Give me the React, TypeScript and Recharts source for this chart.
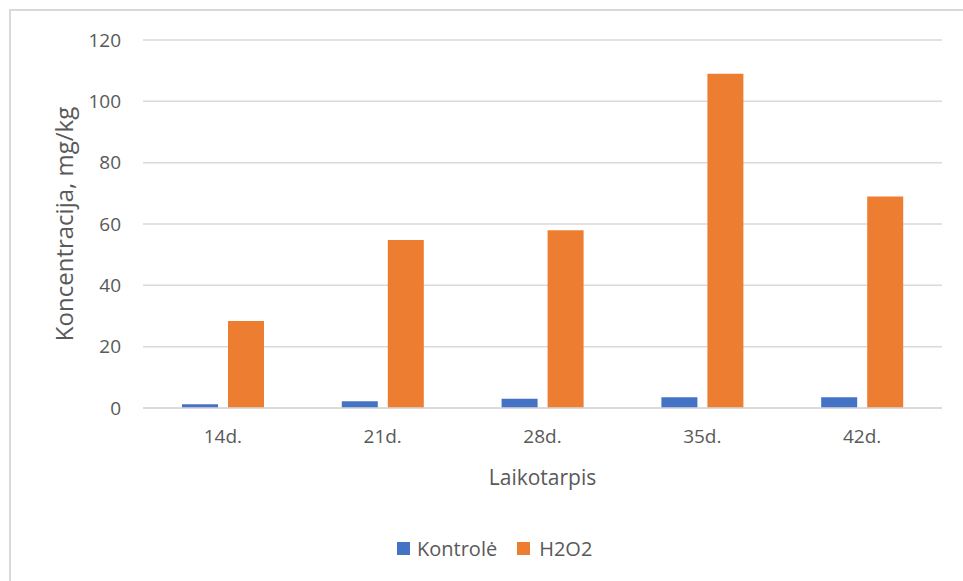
import React from 'react';
import { BarChart, Bar, XAxis, YAxis, CartesianGrid, Legend } from 'recharts';

// Values
const periods = ['14d.', '21d.', '28d.', '35d.', '42d.'];
const kontrole = [1.2, 2.2, 3.0, 3.5, 3.5];
const h2o2 = [28.4, 54.8, 58.0, 109.0, 69.0];
const yTicks = [0, 20, 40, 60, 80, 100, 120];

const data = periods.map((p, i) => ({ name: p, kontrole: kontrole[i], h2o2: h2o2[i] }));

const FONT = '"Open Sans", "DejaVu Sans", sans-serif';
const TEXT = '#595959';
const GRID = '#d9d9d9';

const LegendContent = () => (
    <div style={{ display: 'flex', alignItems: 'center', height: 26, paddingLeft: 397, fontFamily: FONT, fontSize: 20, color: TEXT }}>
        <span style={{ width: 13, height: 13, background: '#4472C4', display: 'inline-block' }} />
        <span style={{ marginLeft: 7 }}>Kontrolė</span>
        <span style={{ width: 13, height: 13, background: '#ED7D31', display: 'inline-block', marginLeft: 20 }} />
        <span style={{ marginLeft: 9 }}>H2O2</span>
    </div>
);

export default function App() {
    return (
        <div style={{ position: 'absolute', left: 0, top: 0, width: 963, height: 581, background: '#fff' }}>
            <div style={{ position: 'absolute', left: 9, top: 9, right: 0, bottom: 0, borderTop: `2px solid ${GRID}`, borderLeft: `2px solid ${GRID}` }} />
            <BarChart
                width={963}
                height={581}
                data={data}
                margin={{ top: 40, right: 21, left: 0, bottom: 20 }}
                barGap={10}
                style={{ position: 'absolute', left: 0, top: 0 }}
            >
                <CartesianGrid vertical={false} stroke={GRID} strokeWidth={1.5} />
                <XAxis
                    dataKey="name"
                    height={127}
                    tickLine={false}
                    tickSize={0}
                    tickMargin={22}
                    axisLine={{ stroke: GRID, strokeWidth: 1.5 }}
                    tick={{ fill: TEXT, fontSize: 19, fontFamily: FONT }}
                    label={{ value: 'Laikotarpis', position: 'insideTop', offset: 62, fill: TEXT, fontSize: 21, fontFamily: FONT }}
                />
                <YAxis
                    width={143}
                    domain={[0, 120]}
                    ticks={yTicks}
                    tickLine={false}
                    axisLine={false}
                    tickSize={0}
                    tickMargin={22}
                    tick={{ fill: TEXT, fontSize: 19, fontFamily: FONT }}
                    label={{
                        value: 'Koncentracija, mg/kg',
                        angle: -90,
                        position: 'insideLeft',
                        offset: 64,
                        fill: TEXT,
                        fontSize: 24,
                        fontFamily: FONT,
                        style: { textAnchor: 'middle' },
                    }}
                />
                <Legend verticalAlign="bottom" content={LegendContent} wrapperStyle={{ left: 0, width: 963, bottom: 20 }} />
                <Bar dataKey="kontrole" name="Kontrolė" fill="#4472C4" barSize={36} isAnimationActive={false} />
                <Bar dataKey="h2o2" name="H2O2" fill="#ED7D31" barSize={36} isAnimationActive={false} />
            </BarChart>
        </div>
    );
}
